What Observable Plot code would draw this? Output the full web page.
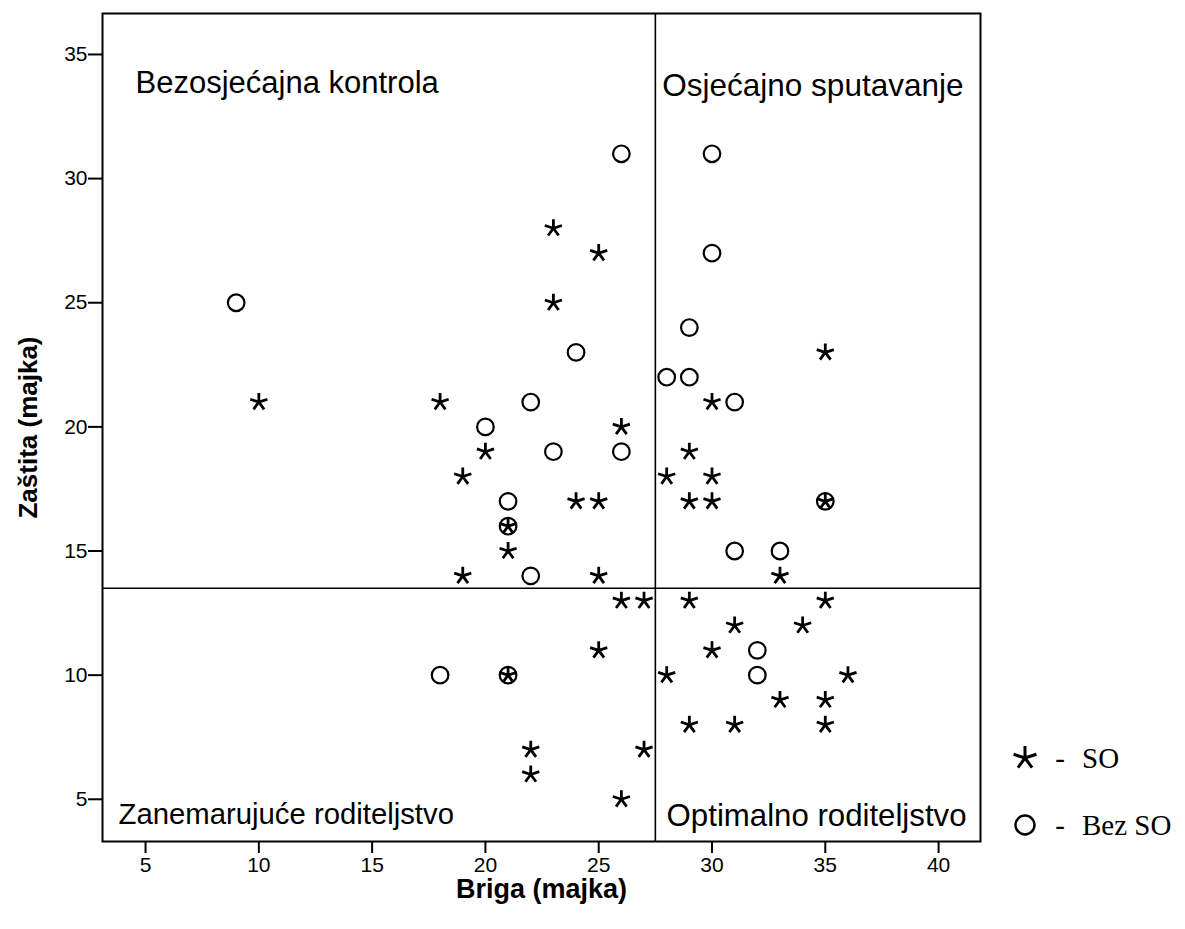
<!DOCTYPE html>
<html>
<head>
<meta charset="utf-8">
<script src="https://cdn.jsdelivr.net/npm/d3@7"></script>
<script src="https://cdn.jsdelivr.net/npm/@observablehq/plot@0.6"></script>
<style>
  html, body { margin: 0; padding: 0; background: white; }
  #chart { width: 1185px; height: 929px; }
</style>
</head>
<body>
<div id="chart"></div>
<script>
// Data: SO group (stars)
const soBriga =   [23,25,23,35,10,18,30,26,20,29,19,28,30,24,25,29,30,35,21,21,19,25,33,26,27,29,35,31,34,25,30,21,28,36,33,35,29,31,35,22,27,22,26];
const soZastita = [28,27,25,23,21,21,21,20,19,19,18,18,18,17,17,17,17,17,16,15,14,14,14,13,13,13,13,12,12,11,11,10,10,10, 9, 9, 8, 8, 8, 7, 7, 6, 5];
// Data: Bez SO group (circles)
const bezBriga =   [26,30,30, 9,29,24,28,29,22,31,20,23,26,21,21,35,31,33,22,18,21,32,32];
const bezZastita = [31,31,27,25,24,23,22,22,21,21,20,19,19,17,16,17,15,15,14,10,10,11,10];
// Cut-off lines
const cutBriga = [27.5];
const cutZastita = [13.5];
// Ticks
const xTicks = [5,10,15,20,25,30,35,40];
const yTicks = [5,10,15,20,25,30,35];
// Labels
const quadrantLabels = ["Bezosjećajna kontrola", "Osjećajno sputavanje", "Zanemarujuće roditeljstvo", "Optimalno roditeljstvo"];
const xLabel = "Briga (majka)";
const yLabel = "Zaštita (majka)";
const legendLabels = ["SO", "Bez SO"];

const so = soBriga.map((b, i) => ({briga: b, zastita: soZastita[i]}));
const bez = bezBriga.map((b, i) => ({briga: b, zastita: bezZastita[i]}));

const asterisk5 = {
  draw(context, size) {
    const r = Math.sqrt(size / Math.PI);
    for (let i = 0; i < 5; i++) {
      const a = -Math.PI / 2 + i * 2 * Math.PI / 5;
      context.moveTo(0, 0);
      context.lineTo(r * Math.cos(a), r * Math.sin(a));
    }
  }
};

const font = "'Liberation Sans', Arial, Helvetica, sans-serif";
const tickFont = 21;

const chart = Plot.plot({
  width: 1185,
  height: 929,
  marginLeft: 102,
  marginRight: 205,
  marginTop: 13,
  marginBottom: 88,
  x: {domain: [3.1, 41.85]},
  y: {domain: [3.3, 36.65]},
  style: {fontFamily: font, fontSize: tickFont + "px", background: "white", color: "black"},
  marks: [
    Plot.ruleX(cutBriga, {stroke: "black", strokeWidth: 1.6}),
    Plot.ruleY(cutZastita, {stroke: "black", strokeWidth: 1.6}),
    Plot.frame({stroke: "black", strokeWidth: 2}),
    Plot.axisX({ticks: xTicks, tickSize: 12, tickPadding: 4, fontSize: tickFont, strokeWidth: 2, label: null, fill: "black"}),
    Plot.axisY({ticks: yTicks, tickSize: 14, tickPadding: 1, fontSize: tickFont, strokeWidth: 2, label: null, fill: "black"}),
    Plot.text([xLabel], {frameAnchor: "bottom", lineAnchor: "middle", textAnchor: "middle", dy: 48, fontSize: 27, fontWeight: "bold", fill: "black"}),
    Plot.text([yLabel], {frameAnchor: "left", lineAnchor: "middle", textAnchor: "middle", dx: -74, rotate: -90, fontSize: 26, fontWeight: "bold", fill: "black"}),
    Plot.text([quadrantLabels[0]], {frameAnchor: "top-left", textAnchor: "start", lineAnchor: "middle", dx: 33, dy: 70, fontSize: 31, fill: "black"}),
    Plot.text([quadrantLabels[1]], {frameAnchor: "top-right", textAnchor: "end", lineAnchor: "middle", dx: -17, dy: 72, fontSize: 31.5, fill: "black"}),
    Plot.text([quadrantLabels[2]], {frameAnchor: "bottom-left", textAnchor: "start", lineAnchor: "middle", dx: 16, dy: -27, fontSize: 29.3, fill: "black"}),
    Plot.text([quadrantLabels[3]], {frameAnchor: "bottom-right", textAnchor: "end", lineAnchor: "middle", dx: -14, dy: -25, fontSize: 31.2, fill: "black"}),
    Plot.dot(bez, {x: "briga", y: "zastita", r: 8.3, stroke: "black", strokeWidth: 2.2, fill: "none"}),
    Plot.dot(so, {x: "briga", y: "zastita", r: 9, symbol: asterisk5, stroke: "black", strokeWidth: 2.8, fill: "none"})
  ]
});

document.getElementById("chart").appendChild(chart);

const svg = d3.select(chart);
// Force tick label size on every axis text element
svg.selectAll("g").filter(function() {
  const l = this.getAttribute("aria-label") || "";
  return l.indexOf("tick label") >= 0;
}).attr("font-size", tickFont).style("font-size", tickFont + "px")
  .selectAll("text").attr("font-size", tickFont).style("font-size", tickFont + "px");

// Legend, drawn into the same SVG (outside the plot frame)
const lg = svg.append("g").attr("class", "legend");
const starPath = d3.path();
asterisk5.draw(starPath, Math.PI * 12 * 12);
lg.append("path").attr("d", starPath.toString()).attr("transform", "translate(1025,758)")
  .attr("stroke", "black").attr("stroke-width", 3).attr("fill", "none");
lg.append("circle").attr("cx", 1025).attr("cy", 825).attr("r", 9.5)
  .attr("stroke", "black").attr("stroke-width", 2.4).attr("fill", "none");
const serif = "'Liberation Serif', 'Times New Roman', Times, serif";
[[758, legendLabels[0]], [825, legendLabels[1]]].forEach(([y, t]) => {
  lg.append("text").attr("x", 1060).attr("y", y).attr("dy", "0.35em").attr("text-anchor", "middle")
    .attr("font-family", serif).attr("font-size", 29).attr("fill", "black").text("-");
  lg.append("text").attr("x", 1082).attr("y", y).attr("dy", "0.35em").attr("text-anchor", "start")
    .attr("font-family", serif).attr("font-size", 29).attr("fill", "black").text(t);
});
</script>
</body>
</html>
